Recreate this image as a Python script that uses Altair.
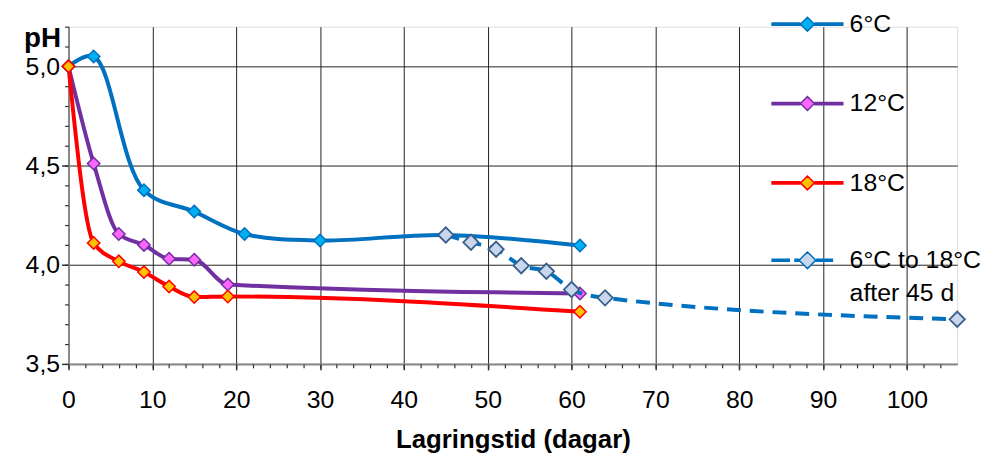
import altair as alt
import pandas as pd

# ---- data ----
series_names = ["6°C", "12°C", "18°C"]
trans_name = "6°C to 18°C"
trans_note = "after 45 d"

days_6 = [0, 3, 9, 15, 21, 30, 45, 61]
ph_6 = [5.0, 5.05, 4.376, 4.268, 4.155, 4.122, 4.15, 4.097]

days_12 = [0, 3, 6, 9, 12, 15, 19, 61]
ph_12 = [5.0, 4.51, 4.155, 4.10, 4.03, 4.025, 3.90, 3.855]

days_18 = [0, 3, 6, 9, 12, 15, 19, 61]
ph_18 = [5.0, 4.11, 4.017, 3.963, 3.89, 3.837, 3.84, 3.763]

days_tr = [45, 48, 51, 54, 57, 60, 64, 106]
ph_tr = [4.15, 4.113, 4.078, 3.995, 3.967, 3.875, 3.833, 3.725]

x_ticks = list(range(0, 101, 10))
x_minor = list(range(0, 106, 2))
y_ticks = [3.5, 4.0, 4.5, 5.0]
y_minor = [round(3.5 + 0.1 * i, 1) for i in range(18)]

rows = []
for name, d, p in zip(series_names, [days_6, days_12, days_18], [ph_6, ph_12, ph_18]):
    for a, b in zip(d, p):
        rows.append({"day": a, "ph": b, "series": name})
df = pd.DataFrame(rows)
df_tr = pd.DataFrame({"day": days_tr, "ph": ph_tr, "series": [trans_name] * len(days_tr)})

line_colors = ["#0070C0", "#7030A0", "#FF0000"]
fill_colors = ["#00B0F0", "#FF66FF", "#FFC000"]
trans_line = "#0070C0"
trans_fill = "#C8D7EC"
trans_edge = "#3A5F8B"

stroke_scale = alt.Scale(domain=series_names, range=line_colors)
fill_scale = alt.Scale(domain=series_names, range=fill_colors)

FONT = "Liberation Sans"

SOLID = ("M-5.2,-0.16H-1M-5.2,0H-1M-5.2,0.16H-1"
         "M1,-0.16H5.2M1,0H5.2M1,0.16H5.2"
         "M0,-1L1,0L0,1L-1,0Z")
DASHED = ("M-5.2,-0.16H-2.5M-5.2,0H-2.5M-5.2,0.16H-2.5"
          "M-1.9,-0.16H-1.2M-1.9,0H-1.2M-1.9,0.16H-1.2"
          "M1.2,-0.16H3.7M1.2,0H3.7M1.2,0.16H3.7"
          "M0,-1.2L1.2,0L0,1.2L-1.2,0Z")

legend_a = alt.Legend(
    title=None, orient="none", legendX=732.5, legendY=-15, padding=0,
    symbolType=SOLID, symbolSize=196, symbolStrokeWidth=1.5, symbolOpacity=1,
    labelFont=FONT, labelFontSize=25, labelColor="black",
    labelOffset=30, labelLimit=400, rowPadding=54,
)

legend_b = alt.Legend(
    title=None, orient="none", legendX=732.5, legendY=223, padding=0,
    symbolType=DASHED, symbolSize=196, symbolStrokeWidth=1.5,
    symbolFillColor=trans_fill, symbolStrokeColor=trans_line,
    labelFont=FONT, labelFontSize=25, labelColor="black",
    labelOffset=30, labelLimit=400, rowPadding=7,
)

x_scale = alt.Scale(domain=[0, 106], nice=False, zero=False)
y_scale = alt.Scale(domain=[3.5, 5.2], nice=False, zero=False)

x_main = alt.X(
    "day:Q", scale=x_scale,
    axis=alt.Axis(
        orient="bottom", values=x_ticks, grid=True, gridColor="#222", gridWidth=1,
        tickSize=6, tickColor="#333", tickWidth=1.5, domainColor="#888", domainWidth=2,
        labelFont=FONT, labelFontSize=25, labelColor="black", labelPadding=18,
        labelFlush=False, labelOverlap=False,
        title="Lagringstid (dagar)", titleFont=FONT, titleFontSize=26,
        titleFontWeight="bold", titleColor="black", titlePadding=14,
    ),
)
y_main = alt.Y(
    "ph:Q", scale=y_scale,
    axis=alt.Axis(
        orient="left", values=y_ticks, grid=True, gridColor="#222", gridWidth=1,
        tickSize=7, tickColor="#333", tickWidth=1.5, domainColor="#888", domainWidth=2,
        labelFont=FONT, labelFontSize=25, labelColor="black", labelPadding=2,
        labelExpr="replace(format(datum.value, '.1f'), '.', ',')",
        labelFlush=False, labelOverlap=False,
        title="pH", titleFont=FONT, titleFontSize=28, titleFontWeight="bold",
        titleColor="black", titleAngle=0, titleAlign="right",
        titleBaseline="alphabetic", titleX=-8, titleY=20,
    ),
)

x_min = alt.X(
    "day:Q", scale=x_scale,
    axis=alt.Axis(orient="bottom", values=x_minor, grid=False, labels=False,
                  domain=False, tickSize=4, tickColor="#333", tickWidth=1.2, title=None),
)
y_min = alt.Y(
    "ph:Q", scale=y_scale,
    axis=alt.Axis(orient="left", values=y_minor, grid=False, labels=False,
                  domain=False, tickSize=4, tickColor="#333", tickWidth=1.2, title=None),
)
x_plain = alt.X("day:Q", scale=x_scale, axis=None)
y_plain = alt.Y("ph:Q", scale=y_scale, axis=None)

base = alt.Chart(df)
base_tr = alt.Chart(df_tr)

minor = base.mark_point(opacity=0).encode(x=x_min, y=y_min)

lines_blue = base.transform_filter(alt.datum.series == "6°C").mark_line(
    interpolate="catmull-rom", strokeWidth=4
).encode(
    x=x_main,
    y=y_main,
    stroke=alt.Stroke("series:N", scale=stroke_scale, legend=legend_a),
)

lines_other = base.transform_filter(alt.datum.series != "6°C").mark_line(
    interpolate="monotone", strokeWidth=4
).encode(
    x=x_plain,
    y=y_plain,
    stroke=alt.Stroke("series:N", scale=stroke_scale, legend=legend_a),
    detail="series:N",
)

pts = base.mark_point(shape="diamond", filled=True, size=156, strokeWidth=1.5,
                      opacity=1).encode(
    x=x_plain,
    y=y_plain,
    fill=alt.Fill("series:N", scale=fill_scale, legend=legend_a),
    stroke=alt.Stroke("series:N", scale=stroke_scale, legend=legend_a),
)

lines_tr = base_tr.mark_line(interpolate="monotone", strokeWidth=4,
                             stroke=trans_line, strokeDash=[14, 9]).encode(
    x=x_plain,
    y=y_plain,
    opacity=alt.Opacity("series:N",
                        scale=alt.Scale(domain=[trans_name, trans_note], range=[1, 0]),
                        legend=legend_b),
)

pts_tr = base_tr.mark_point(shape="diamond", filled=True, size=240, strokeWidth=1.8,
                            stroke=trans_edge, fill=trans_fill, opacity=1).encode(
    x=x_plain,
    y=y_plain,
)

chart = alt.layer(lines_blue, lines_other, minor, pts, lines_tr, pts_tr).resolve_axis(
    x="independent", y="independent"
).properties(
    width=896,
    height=340,
    autosize=alt.AutoSizeParams(type="none"),
    padding={"left": 61, "top": 17, "right": 26, "bottom": 89},
).configure_view(
    stroke="#888", strokeWidth=2
).configure(background="white")

chart.save("out.html", embed_options={"renderer": "svg", "actions": False})
